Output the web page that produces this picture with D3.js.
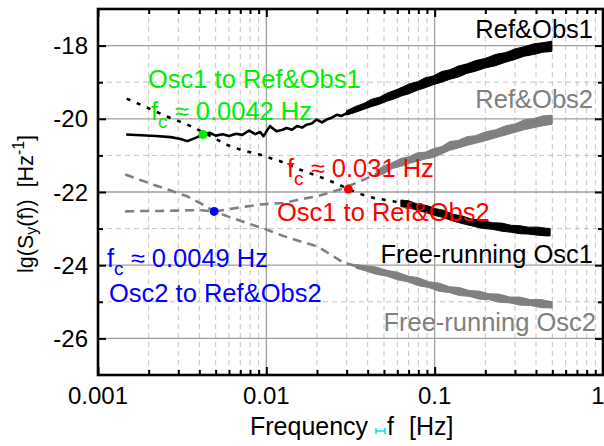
<!DOCTYPE html>
<html><head><meta charset="utf-8">
<script src="https://cdn.jsdelivr.net/npm/d3@7"></script>
<style>
html,body{margin:0;padding:0;background:#fff;}
svg{display:block;font-family:"Liberation Sans",Arial,sans-serif;}
</style></head>
<body><svg id="c" width="604" height="446"></svg>
<script>
// ---------- data ----------
const xTickValues = [0.001, 0.01, 0.1, 1];
const xTickLabels = ["0.001", "0.01", "0.1", "1"];
const yTickValues = [-18, -20, -22, -24, -26];
const yTickLabels = ["-18", "-20", "-22", "-24", "-26"];

// Ref&Obs1 (black solid)
const refObs1F = [0.00147,0.0018,0.0022,0.0027,0.0031,0.0034,0.0038,0.0042,0.0046,0.0050,0.0055,0.0060,0.0066,0.0072,0.0079,0.0086,0.0092,0.0096,0.0105,0.0115,0.0125,0.0132,0.0142,0.0152,0.0163,0.0174,0.0186,0.0199,0.0214,0.0228,0.0245,0.0262,0.028,0.0314,0.0345,0.0376,0.041,0.0453,0.05,0.0543,0.06,0.0652,0.072,0.0783,0.086,0.0939,0.103,0.1127,0.12,0.1292,0.145,0.1623,0.18,0.204,0.23,0.256,0.29,0.3215,0.36,0.4043,0.45,0.4966];
const refObs1V = [-20.43,-20.45,-20.47,-20.5,-20.55,-20.61,-20.52,-20.43,-20.38,-20.46,-20.42,-20.47,-20.41,-20.44,-20.32,-20.42,-20.36,-20.48,-20.2,-20.34,-20.3,-20.25,-20.3,-20.2,-20.24,-20.16,-20.13,-20.02,-20.1,-20.02,-19.97,-19.89,-19.92,-19.8,-19.74,-19.66,-19.6,-19.52,-19.45,-19.39,-19.3,-19.25,-19.17,-19.11,-19.03,-18.98,-18.9,-18.84,-18.8,-18.75,-18.68,-18.61,-18.55,-18.47,-18.4,-18.34,-18.27,-18.2,-18.14,-18.09,-18.05,-18.02];
// noise envelope of Ref&Obs1
const refObs1BandF  = [0.03,0.034,0.038,0.042,0.047,0.052,0.058,0.064,0.071,0.079,0.088,0.098,0.11,0.123,0.138,0.155,0.175,0.2,0.23,0.265,0.3,0.34,0.39,0.44,0.497];
const refObs1BandHi = [-19.78,-19.66,-19.58,-19.47,-19.41,-19.3,-19.22,-19.14,-19.04,-18.99,-18.88,-18.83,-18.71,-18.66,-18.56,-18.5,-18.41,-18.35,-18.24,-18.19,-18.09,-18.03,-17.95,-17.92,-17.88];
const refObs1BandLo = [-19.9,-19.82,-19.74,-19.67,-19.6,-19.52,-19.45,-19.37,-19.31,-19.22,-19.15,-19.07,-19.0,-18.92,-18.86,-18.76,-18.7,-18.61,-18.55,-18.45,-18.38,-18.29,-18.24,-18.18,-18.16];

// Free-running Osc1 (black dotted)
const osc1F = [0.00148,0.0018,0.0022,0.0027,0.0034,0.0041,0.0048,0.0058,0.0072,0.0092,0.0121,0.0159,0.0190,0.0229,0.0270,0.0307,0.036,0.0432,0.0566,0.07,0.0898,0.11,0.1285,0.16,0.2047,0.25,0.3215,0.4,0.485];
const osc1V = [-19.45,-19.62,-19.8,-19.98,-20.16,-20.34,-20.5,-20.71,-20.86,-20.98,-21.16,-21.39,-21.52,-21.66,-21.8,-21.92,-22.05,-22.16,-22.25,-22.35,-22.48,-22.6,-22.7,-22.8,-22.89,-22.96,-23.03,-23.07,-23.1];
const osc1BandF  = [0.063,0.07,0.079,0.09,0.1,0.113,0.128,0.145,0.165,0.19,0.22,0.25,0.285,0.32,0.36,0.41,0.46,0.485];
const osc1BandHi = [-22.22,-22.24,-22.33,-22.37,-22.45,-22.5,-22.61,-22.65,-22.74,-22.77,-22.84,-22.85,-22.91,-22.92,-22.96,-22.96,-22.99,-23.0];
const osc1BandLo = [-22.4,-22.43,-22.5,-22.57,-22.64,-22.7,-22.79,-22.86,-22.92,-22.99,-23.02,-23.07,-23.1,-23.14,-23.15,-23.18,-23.2,-23.2];

// Ref&Obs2 (grey)
const refObs2F = [0.00145,0.0018,0.0023,0.0029,0.0034,0.0041,0.0049,0.006,0.0075,0.0092,0.0126,0.0159,0.0199,0.0274,0.036,0.0453,0.0566,0.07,0.0939,0.129,0.165,0.2047,0.26,0.3215,0.4,0.499];
const refObs2V = [-22.53,-22.52,-22.52,-22.51,-22.5,-22.5,-22.53,-22.47,-22.4,-22.34,-22.3,-22.2,-22.12,-21.93,-21.71,-21.5,-21.27,-21.12,-20.98,-20.72,-20.6,-20.48,-20.33,-20.2,-20.1,-20.02];
const refObs2BandF  = [0.045,0.05,0.056,0.063,0.07,0.079,0.088,0.098,0.11,0.123,0.138,0.155,0.175,0.2,0.23,0.265,0.3,0.34,0.39,0.44,0.499];
const refObs2BandHi = [-21.42,-21.28,-21.2,-21.08,-21.04,-20.93,-20.91,-20.82,-20.76,-20.62,-20.59,-20.49,-20.46,-20.36,-20.3,-20.19,-20.14,-20.03,-19.99,-19.92,-19.9];
const refObs2BandLo = [-21.58,-21.5,-21.36,-21.3,-21.22,-21.16,-21.1,-21.06,-20.96,-20.86,-20.8,-20.73,-20.67,-20.6,-20.52,-20.44,-20.37,-20.3,-20.24,-20.19,-20.15];

// Free-running Osc2 (grey dashed)
const osc2F = [0.00145,0.0018,0.0022,0.0027,0.0034,0.0041,0.0049,0.006,0.0077,0.0101,0.0126,0.016,0.0199,0.024,0.0286,0.036,0.0494,0.0783,0.1233,0.16,0.2047,0.26,0.3215,0.4,0.499];
const osc2V = [-21.52,-21.68,-21.82,-21.96,-22.12,-22.32,-22.53,-22.68,-22.85,-23.03,-23.2,-23.35,-23.48,-23.7,-23.93,-24.05,-24.2,-24.44,-24.67,-24.77,-24.85,-24.92,-24.98,-25.03,-25.08];
const osc2BandF  = [0.034,0.039,0.045,0.052,0.06,0.07,0.08,0.092,0.106,0.123,0.14,0.16,0.185,0.21,0.24,0.28,0.32,0.37,0.43,0.499];
const osc2BandHi = [-23.98,-24.02,-24.05,-24.14,-24.19,-24.3,-24.34,-24.45,-24.49,-24.59,-24.61,-24.69,-24.71,-24.78,-24.79,-24.87,-24.87,-24.94,-24.94,-25.0];
const osc2BandLo = [-24.08,-24.16,-24.25,-24.3,-24.4,-24.46,-24.56,-24.61,-24.71,-24.75,-24.83,-24.85,-24.93,-24.94,-25.01,-25.03,-25.09,-25.1,-25.16,-25.17];

// crossing points
const markerF = [0.0042, 0.0307, 0.0049];
const markerV = [-20.43, -21.92, -22.53];
const markerColors = ["#00ee00", "#ff0000", "#0000ff"];

// ---------- drawing ----------
const svg = d3.select("#c");
const L = 98, R = 603, T = 9, B = 375;
const x = d3.scaleLog().domain([0.001, 1]).range([L, R]);
const y = d3.scaleLinear().domain([-27, -17]).range([B, T]);

const minorX = [];
[0.001, 0.01, 0.1].forEach(d => { for (let k = 2; k <= 9; k++) minorX.push(k * d); });
const minorY = [-19, -21, -23, -25];

const g = svg.append("g");
// grid
g.selectAll(".gmx").data(minorX).join("line")
  .attr("x1", d => x(d)).attr("x2", d => x(d)).attr("y1", T).attr("y2", B)
  .attr("stroke", "#c4c4c4").attr("stroke-width", 1).attr("stroke-dasharray", "5,4");
g.selectAll(".gmy").data(minorY).join("line")
  .attr("x1", L).attr("x2", R).attr("y1", d => y(d)).attr("y2", d => y(d))
  .attr("stroke", "#c4c4c4").attr("stroke-width", 1).attr("stroke-dasharray", "5,4");
g.selectAll(".gMx").data([0.01, 0.1]).join("line")
  .attr("x1", d => x(d)).attr("x2", d => x(d)).attr("y1", T).attr("y2", B)
  .attr("stroke", "#a0a0a0").attr("stroke-width", 1.3);
g.selectAll(".gMy").data(yTickValues).join("line")
  .attr("x1", L).attr("x2", R).attr("y1", d => y(d)).attr("y2", d => y(d))
  .attr("stroke", "#a0a0a0").attr("stroke-width", 1.3);

// axes with inward ticks
function axisTicks(axisGen, tr) {
  return svg.append("g").attr("transform", tr).call(axisGen)
    .call(s => s.select(".domain").remove())
    .call(s => s.selectAll("text").remove())
    .call(s => s.selectAll("line").attr("stroke", "#000").attr("stroke-width", 2));
}
axisTicks(d3.axisBottom(x).tickValues(xTickValues).tickSize(-8), `translate(0,${B})`);
axisTicks(d3.axisBottom(x).tickValues(minorX).tickSize(-5), `translate(0,${B})`);
axisTicks(d3.axisTop(x).tickValues(xTickValues).tickSize(-8), `translate(0,${T})`);
axisTicks(d3.axisTop(x).tickValues(minorX).tickSize(-5), `translate(0,${T})`);
axisTicks(d3.axisLeft(y).tickValues(yTickValues).tickSize(-8), `translate(${L},0)`);
axisTicks(d3.axisLeft(y).tickValues(minorY).tickSize(-5), `translate(${L},0)`);
axisTicks(d3.axisRight(y).tickValues(yTickValues).tickSize(-8), `translate(${R},0)`);
axisTicks(d3.axisRight(y).tickValues(minorY).tickSize(-5), `translate(${R},0)`);

// tick labels (the last one sits at the window edge, as in the reference)
svg.selectAll(".xl").data(xTickValues).join("text")
  .attr("x", d => Math.min(x(d), 598)).attr("y", 404).attr("text-anchor", "middle")
  .attr("font-size", 24).attr("fill", "#000").text((d, i) => xTickLabels[i]);
svg.selectAll(".yl").data(yTickValues).join("text")
  .attr("x", 88).attr("y", d => y(d) + 8.5).attr("text-anchor", "end")
  .attr("font-size", 24).attr("fill", "#000").text((d, i) => yTickLabels[i]);

// axis titles
const xt = svg.append("text").attr("x", 250).attr("y", 435).attr("font-size", 25).attr("fill", "#000");
xt.append("tspan").text("Frequency");
xt.append("tspan").attr("x", 387).text("f");
xt.append("tspan").attr("x", 409).text("[Hz]");
svg.append("path").attr("d", "M376,428V434M376,431H385M385,428V434")
  .attr("stroke", "#00e0ff").attr("stroke-width", 1.5).attr("fill", "none");

const yt = svg.append("text").attr("transform", "translate(33,273) rotate(-90)")
  .attr("font-size", 21.5).attr("fill", "#000").style("white-space", "pre");
yt.append("tspan").text("lg(S");
yt.append("tspan").attr("font-size", 16).attr("dy", 4).text("y");
yt.append("tspan").attr("dy", -4).text("(f))\u00a0\u00a0[Hz");
yt.append("tspan").attr("font-size", 16).attr("dy", -9).text("-1");
yt.append("tspan").attr("dy", 9).text("]");

// curves
const zip = (F, V) => F.map((f, i) => [f, V[i]]);
const line = d3.line().x(d => x(d[0])).y(d => y(d[1]));
const area = d3.area().x(d => x(d[0])).y0(d => y(d[1])).y1(d => y(d[2]));
const bandData = (F, H, Lo) => F.map((f, i) => [f, H[i], Lo[i]]);

function drawCurve(F, V, color, dash, bF, bH, bL) {
  svg.append("path").datum(bandData(bF, bH, bL)).attr("d", area)
    .attr("fill", color).attr("stroke", color).attr("stroke-width", 1);
  svg.append("path").datum(zip(F, V)).attr("d", line)
    .attr("fill", "none").attr("stroke", color).attr("stroke-width", 2.6)
    .attr("stroke-dasharray", dash).attr("stroke-linejoin", "round");
}
drawCurve(osc2F, osc2V, "#808080", "9,6", osc2BandF, osc2BandHi, osc2BandLo);
drawCurve(refObs2F, refObs2V, "#808080", "9,6", refObs2BandF, refObs2BandHi, refObs2BandLo);
drawCurve(osc1F, osc1V, "#000", "4,7", osc1BandF, osc1BandHi, osc1BandLo);
drawCurve(refObs1F, refObs1V, "#000", null, refObs1BandF, refObs1BandHi, refObs1BandLo);

// markers
svg.selectAll(".mk").data(markerF).join("circle")
  .attr("cx", d => x(d)).attr("cy", (d, i) => y(markerV[i])).attr("r", 4.5)
  .attr("fill", (d, i) => markerColors[i]);

// labels
function label(txt, xx, yy, color, anchor) {
  svg.append("text").attr("x", xx).attr("y", yy).attr("font-size", 25.5)
    .attr("fill", color).attr("text-anchor", anchor || "start").text(txt);
}
function fcLabel(val, xx, yy, color) {
  const t = svg.append("text").attr("x", xx).attr("y", yy).attr("font-size", 25.5).attr("fill", color);
  t.append("tspan").text("f");
  t.append("tspan").attr("font-size", 19).attr("dy", 8).text("c");
  t.append("tspan").attr("dy", -8).text(" \u2248 " + val + " Hz");
}
label("Ref&Obs1", 593, 38, "#000", "end");
label("Ref&Obs2", 593, 108, "#808080", "end");
label("Free-running Osc1", 593, 263, "#000", "end");
label("Free-running Osc2", 596, 331, "#808080", "end");
label("Osc1 to Ref&Obs1", 148, 88, "#00ee00");
fcLabel("0.0042", 151, 120, "#00ee00");
fcLabel("0.031", 287, 177, "#ff0000");
label("Osc1 to Ref&Obs2", 277, 221, "#ff0000");
fcLabel("0.0049", 107, 267, "#0000ff");
label("Osc2 to Ref&Obs2", 109, 302, "#0000ff");

// frame
svg.append("rect").attr("x", L).attr("y", T).attr("width", R - L).attr("height", B - T)
  .attr("fill", "none").attr("stroke", "#000").attr("stroke-width", 2.6);
</script></body></html>
